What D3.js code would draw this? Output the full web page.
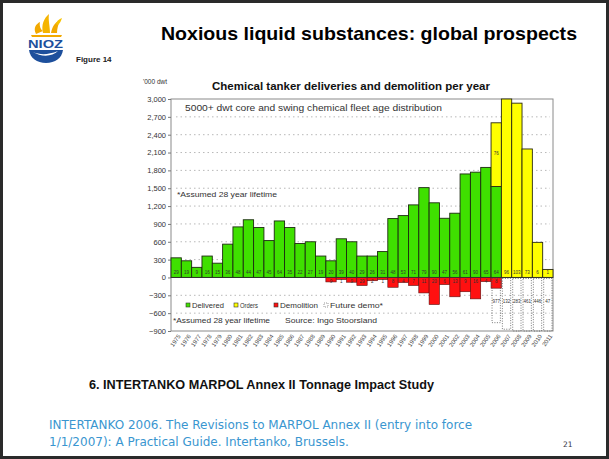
<!DOCTYPE html>
<html><head><meta charset="utf-8">
<script src="https://cdn.jsdelivr.net/npm/d3@7"></script>
<style>html,body{margin:0;padding:0;background:#fff;} svg{display:block;}</style>
</head><body><svg id="c" width="609" height="459"></svg>
<script>
const years = ["1975","1976","1977","1978","1979","1980","1981","1982","1983","1984","1985","1986","1987","1988","1989","1990","1991","1992","1993","1994","1995","1996","1997","1998","1999","2000","2001","2002","2003","2004","2005","2006","2007","2008","2009","2010","2011"];
const delivered = [330,280,170,360,240,560,850,970,840,620,950,840,570,600,360,280,650,600,360,360,435,990,1040,1220,1510,1255,995,1080,1740,1770,1850,1530,0,0,0,0,0];
const orders =    [0,0,0,0,0,0,0,0,0,0,0,0,0,0,0,0,0,0,0,0,0,0,0,0,0,0,0,0,0,0,0,1070,3000,2930,2160,590,135];
const demolition = [0,0,0,0,0,0,0,0,0,0,0,0,0,0,0,-75,-35,-80,-135,-55,-35,-165,-85,-135,-260,-455,-120,-325,-240,-360,-70,-180,0,0,0,0,0];
const shipCounts = ["29","19","9","16","15","36","48","44","47","45","64","35","22","27","19","20","39","40","29","26","31","48","53","71","79","90","47","56","61","90","65","64","96","103","73","6","1"];
const demoCounts = ["","","","","","","","","","","","","","","","9","1","9","29","2","1","8","4","7","11","20","6","13","9","16","4","8","","","","",""];
const futureYears = ["2006","2007","2008","2009","2010","2011"];
const futureDemo = [-760,-870,-900,-900,-900,-900];
const futureLabels = ["977","132","283","461","446","47"];
const yTicks = [-900,-600,-300,0,300,600,900,1200,1500,1800,2100,2400,2700,3000];
const legendItems = ["Delivered","Orders","Demolition","Future demo*"];

const svg = d3.select("#c");
const F = "'Liberation Sans', Arial, sans-serif";

// slide frame
svg.append("rect").attr("x",1.5).attr("y",1.5).attr("width",606).attr("height",456)
  .attr("fill","#fff").attr("stroke","#2a2a2a").attr("stroke-width",3);

// logo
const logo = svg.append("g");
logo.append("path").attr("d","M36,34 C33,28 36,24 40,22 C39,26 41,30 43,31 Z").attr("fill","#f2a900");
logo.append("path").attr("d","M43,33 C41,25 44,18 49,14 C48,20 50,26 50,33 Z").attr("fill","#f5b400");
logo.append("path").attr("d","M51,33 C52,27 55,22 60,20 C58,25 57,29 57,33 Z").attr("fill","#f2a900");
logo.append("path").attr("d","M56,24 C57,21 59,19 62,18 C61,21 60,23 58,25 Z").attr("fill","#f7c200");
logo.append("path").attr("d","M31,35 L62,35 L61,37 L32,37 Z").attr("fill","#f2a900");
logo.append("text").attr("x",28).attr("y",47.5).attr("font-family",F).attr("font-weight","bold")
  .attr("font-size",11).attr("fill","#1d4f9c").attr("textLength",35).attr("lengthAdjust","spacingAndGlyphs").text("NIOZ");
logo.append("path").attr("d","M29,50 L63,50 C62,58 55,63 46,63 C37,63 30,58 29,50 Z").attr("fill","#1d4f9c");
logo.append("path").attr("d","M33,52 C40,55 48,55 58,51 C52,57 41,57 33,52 Z").attr("fill","#fff");

// slide title
svg.append("text").attr("x",161).attr("y",40).attr("font-family",F).attr("font-weight","bold")
  .attr("font-size",19).attr("textLength",416).attr("lengthAdjust","spacingAndGlyphs").attr("fill","#000")
  .text("Noxious liquid substances: global prospects");

svg.append("text").attr("x",76).attr("y",62).attr("font-family",F).attr("font-weight","bold")
  .attr("font-size",8).attr("fill","#222").text("Figure 14");

// chart
const x = d3.scaleBand().domain(years).range([171,553]).padding(0);
const y = d3.scaleLinear().domain([-900,3000]).range([331,99]);
const g = svg.append("g");

// gridlines
g.selectAll("line.grid").data(yTicks.filter(t=>t!==3000 && t!==-900 && t!==0)).join("line")
  .attr("x1",176).attr("x2",550).attr("y1",d=>y(d)).attr("y2",d=>y(d))
  .attr("stroke","#b8b8b8").attr("stroke-width",1).attr("stroke-dasharray","1.5,3");

// frame
g.append("rect").attr("x",171).attr("y",y(3000)).attr("width",382).attr("height",y(-900)-y(3000))
  .attr("fill","none").attr("stroke","#8a8a8a").attr("stroke-width",1);

// y axis
const yAxis = d3.axisLeft(y).tickValues(yTicks).tickSize(3).tickFormat(d3.format(","));
const ya = g.append("g").attr("transform","translate(171,0)").call(yAxis);
ya.select(".domain").remove();
ya.selectAll("line").attr("stroke","#777");
ya.selectAll("text").attr("font-family",F).attr("font-size",7.5).attr("fill","#333").attr("x",-5);

g.append("text").attr("x",143).attr("y",84).attr("font-family",F).attr("font-size",6.5).attr("fill","#333").text("'000 dwt");

// x axis labels
const xAxis = d3.axisBottom(x).tickSize(0);
const xa = g.append("g").attr("transform",`translate(0,${y(-900)})`).call(xAxis);
xa.select(".domain").remove();
xa.selectAll("text").attr("font-family",F).attr("font-size",6).attr("fill","#444")
  .attr("text-anchor","end").attr("transform","translate(3,4) rotate(-55)").attr("dy","0.35em").attr("y",0).attr("x",0);

// bars
const bw = x.bandwidth();
g.selectAll("rect.del").data(years).join("rect")
  .attr("x",d=>x(d)).attr("width",bw)
  .attr("y",(d,i)=>y(delivered[i])).attr("height",(d,i)=>y(0)-y(delivered[i]))
  .attr("fill","#3fe000").attr("stroke","#1c2a10").attr("stroke-width",0.9)
  .style("display",(d,i)=>delivered[i]>0?null:"none");
g.selectAll("rect.ord").data(years).join("rect")
  .attr("x",d=>x(d)).attr("width",bw)
  .attr("y",(d,i)=>y(delivered[i]+orders[i])).attr("height",(d,i)=>y(delivered[i])-y(delivered[i]+orders[i]))
  .attr("fill","#ffff00").attr("stroke","#2a2a10").attr("stroke-width",0.9)
  .style("display",(d,i)=>orders[i]>0?null:"none");
g.selectAll("rect.dem").data(years).join("rect")
  .attr("x",d=>x(d)).attr("width",bw)
  .attr("y",y(0)).attr("height",(d,i)=>y(demolition[i])-y(0))
  .attr("fill","#ff1010").attr("stroke","#5a1010").attr("stroke-width",0.6)
  .style("display",(d,i)=>demolition[i]<0?null:"none");

// future demolition dotted boxes
g.selectAll("rect.fut").data(futureYears).join("rect")
  .attr("x",d=>x(d)+1).attr("width",bw-2)
  .attr("y",y(0)+1).attr("height",(d,i)=>y(futureDemo[i])-y(0)-1)
  .attr("fill","none").attr("stroke","#555").attr("stroke-width",0.8).attr("stroke-dasharray","1,1.5");
g.selectAll("text.fut").data(futureYears).join("text")
  .attr("x",d=>x(d)+bw/2).attr("y",303).attr("text-anchor","middle")
  .attr("font-family",F).attr("font-size",4.5).attr("fill","#333").text((d,i)=>futureLabels[i]);

// zero line
g.append("line").attr("x1",171).attr("x2",553).attr("y1",y(0)).attr("y2",y(0)).attr("stroke","#333").attr("stroke-width",0.8);

// count labels
g.selectAll("text.cnt").data(years).join("text")
  .attr("x",d=>x(d)+bw/2).attr("y",y(0)-3).attr("text-anchor","middle")
  .attr("font-family",F).attr("font-size",4.5).attr("fill","#333").text((d,i)=>shipCounts[i]);
g.selectAll("text.dcnt").data(years).join("text")
  .attr("x",d=>x(d)+bw/2).attr("y",y(0)+6).attr("text-anchor","middle")
  .attr("font-family",F).attr("font-size",4.5).attr("fill","#333").text((d,i)=>demoCounts[i]);
g.append("text").attr("x",x("2006")+bw/2).attr("y",155).attr("text-anchor","middle")
  .attr("font-family",F).attr("font-size",4.5).attr("fill","#333").text("76");

// chart title & notes
g.append("text").attr("x",212).attr("y",90).attr("font-family",F).attr("font-weight","bold")
  .attr("font-size",10.5).attr("textLength",278).attr("lengthAdjust","spacingAndGlyphs").attr("fill","#111")
  .text("Chemical tanker deliveries and demolition per year");
g.append("text").attr("x",185).attr("y",111).attr("font-family",F)
  .attr("font-size",9).attr("textLength",257).attr("lengthAdjust","spacingAndGlyphs").attr("fill","#333")
  .text("5000+ dwt core and swing chemical fleet age distribution");
g.append("text").attr("x",177).attr("y",197).attr("font-family",F)
  .attr("font-size",7.5).attr("textLength",100).attr("lengthAdjust","spacingAndGlyphs").attr("fill","#333")
  .text("*Assumed 28 year lifetime");

// legend
const legX = [186,234,274,324];
const legCol = ["#3fe000","#ffff00","#ff1010","none"];
const legW = [32,18,38,53];
legendItems.forEach((t,i)=>{
  if(i<3){
    g.append("rect").attr("x",legX[i]).attr("y",303).attr("width",4).attr("height",4)
      .attr("fill",legCol[i]).attr("stroke","#333").attr("stroke-width",0.6);
  } else {
    g.append("rect").attr("x",legX[i]).attr("y",303).attr("width",4).attr("height",4)
      .attr("fill","none").attr("stroke","#555").attr("stroke-width",0.6).attr("stroke-dasharray","1,1");
  }
  g.append("text").attr("x",legX[i]+6).attr("y",308).attr("font-family",F).attr("font-size",7.5)
    .attr("textLength",legW[i]).attr("lengthAdjust","spacingAndGlyphs").attr("fill","#333").text(t);
});
g.append("text").attr("x",173).attr("y",323).attr("font-family",F).attr("font-size",7.5)
  .attr("textLength",97).attr("lengthAdjust","spacingAndGlyphs").attr("fill","#333").text("*Assumed 28 year lifetime");
g.append("text").attr("x",285).attr("y",323).attr("font-family",F).attr("font-size",7.5)
  .attr("textLength",92).attr("lengthAdjust","spacingAndGlyphs").attr("fill","#333").text("Source: Ingo Stoorsland");

// bottom texts
svg.append("text").attr("x",89).attr("y",389).attr("font-family",F).attr("font-weight","bold")
  .attr("font-size",13).attr("textLength",345).attr("lengthAdjust","spacingAndGlyphs").attr("fill","#111")
  .text("6. INTERTANKO MARPOL Annex II Tonnage Impact Study");

const cite = svg.append("text").attr("font-family","'DejaVu Sans', Verdana, sans-serif").attr("font-size",12).attr("fill","#3a96d0");
cite.append("tspan").attr("x",49).attr("y",429).text("INTERTANKO 2006. The Revisions to MARPOL Annex II (entry into force");
cite.append("tspan").attr("x",49).attr("y",446).text("1/1/2007): A Practical Guide. Intertanko, Brussels.");
svg.append("text").attr("x",563).attr("y",447).attr("font-family","'DejaVu Sans', Verdana, sans-serif")
  .attr("font-size",7.5).attr("fill","#334").text("21");
</script></body></html>
